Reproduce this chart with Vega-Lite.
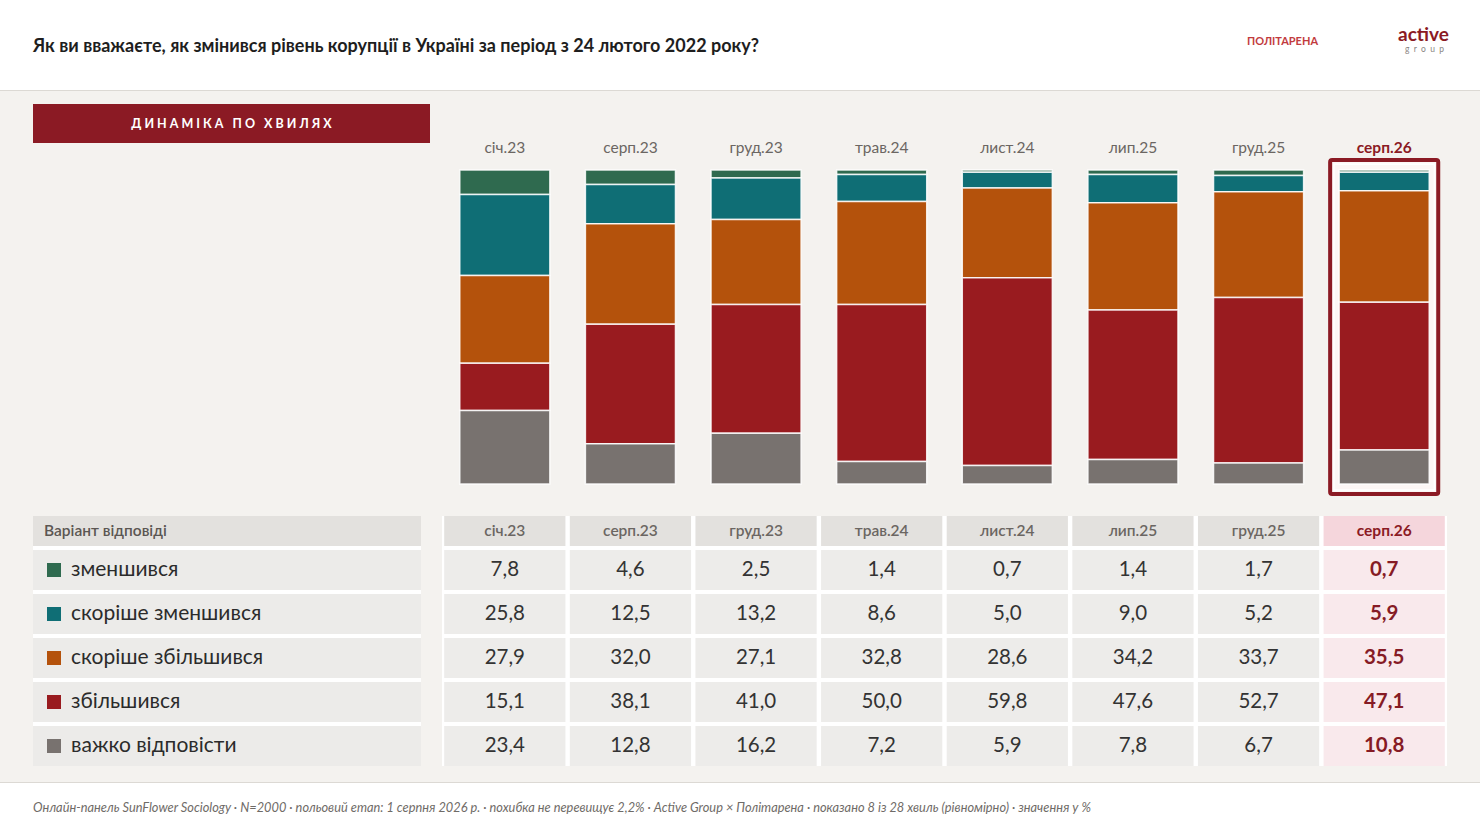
{
  "$schema": "https://vega.github.io/schema/vega-lite/v6.json",
  "padding": 0,
  "background": "#f4f2ef",
  "spacing": 0,
  "config": {
    "font": "Lato",
    "view": {"stroke": null},
    "concat": {"spacing": 0},
    "locale": {"number": {"decimal": ",", "thousands": " ", "grouping": [3], "currency": ["", ""]}}
  },
  "datasets": {
    "d": [
      {"w": "січ.23", "c": "зменшився", "v": 7.8},
      {"w": "січ.23", "c": "скоріше зменшився", "v": 25.8},
      {"w": "січ.23", "c": "скоріше збільшився", "v": 27.9},
      {"w": "січ.23", "c": "збільшився", "v": 15.1},
      {"w": "січ.23", "c": "важко відповісти", "v": 23.4},
      {"w": "серп.23", "c": "зменшився", "v": 4.6},
      {"w": "серп.23", "c": "скоріше зменшився", "v": 12.5},
      {"w": "серп.23", "c": "скоріше збільшився", "v": 32.0},
      {"w": "серп.23", "c": "збільшився", "v": 38.1},
      {"w": "серп.23", "c": "важко відповісти", "v": 12.8},
      {"w": "груд.23", "c": "зменшився", "v": 2.5},
      {"w": "груд.23", "c": "скоріше зменшився", "v": 13.2},
      {"w": "груд.23", "c": "скоріше збільшився", "v": 27.1},
      {"w": "груд.23", "c": "збільшився", "v": 41.0},
      {"w": "груд.23", "c": "важко відповісти", "v": 16.2},
      {"w": "трав.24", "c": "зменшився", "v": 1.4},
      {"w": "трав.24", "c": "скоріше зменшився", "v": 8.6},
      {"w": "трав.24", "c": "скоріше збільшився", "v": 32.8},
      {"w": "трав.24", "c": "збільшився", "v": 50.0},
      {"w": "трав.24", "c": "важко відповісти", "v": 7.2},
      {"w": "лист.24", "c": "зменшився", "v": 0.7},
      {"w": "лист.24", "c": "скоріше зменшився", "v": 5.0},
      {"w": "лист.24", "c": "скоріше збільшився", "v": 28.6},
      {"w": "лист.24", "c": "збільшився", "v": 59.8},
      {"w": "лист.24", "c": "важко відповісти", "v": 5.9},
      {"w": "лип.25", "c": "зменшився", "v": 1.4},
      {"w": "лип.25", "c": "скоріше зменшився", "v": 9.0},
      {"w": "лип.25", "c": "скоріше збільшився", "v": 34.2},
      {"w": "лип.25", "c": "збільшився", "v": 47.6},
      {"w": "лип.25", "c": "важко відповісти", "v": 7.8},
      {"w": "груд.25", "c": "зменшився", "v": 1.7},
      {"w": "груд.25", "c": "скоріше зменшився", "v": 5.2},
      {"w": "груд.25", "c": "скоріше збільшився", "v": 33.7},
      {"w": "груд.25", "c": "збільшився", "v": 52.7},
      {"w": "груд.25", "c": "важко відповісти", "v": 6.7},
      {"w": "серп.26", "c": "зменшився", "v": 0.7},
      {"w": "серп.26", "c": "скоріше зменшився", "v": 5.9},
      {"w": "серп.26", "c": "скоріше збільшився", "v": 35.5},
      {"w": "серп.26", "c": "збільшився", "v": 47.1},
      {"w": "серп.26", "c": "важко відповісти", "v": 10.8}
    ]
  },
  "vconcat": [
    {
      "spacing": 0,
      "hconcat": [
        {"width": 33, "height": 90, "data": {"values": [{}]}, "mark": {"type": "rect", "color": "#ffffff"}},
        {
          "width": 1187, "height": 90, "view": {"fill": "#ffffff"},
          "data": {"values": [{"t": "Як ви вважаєте, як змінився рівень корупції в Україні за період з 24 лютого 2022 року?"}]},
          "mark": {"type": "text", "align": "left", "baseline": "middle", "fontSize": 18, "fontWeight": "bold", "color": "#1e1e1e", "dy": 2},
          "encoding": {
            "text": {"field": "t"},
            "x": {"datum": 0, "type": "quantitative", "scale": {"domain": [0, 1]}, "axis": null}
          }
        },
        {
          "width": 125, "height": 90, "view": {"fill": "#ffffff"},
          "data": {"values": [{"t": "ПОЛІТАРЕНА"}]},
          "mark": {"type": "text", "fontSize": 11, "fontWeight": "bold", "color": "#c23b3e", "dy": -3},
          "encoding": {"text": {"field": "t"}}
        },
        {
          "width": 135, "height": 90, "view": {"fill": "#ffffff"},
          "data": {"values": [{"a": "active", "g": "g\u00a0\u00a0r\u00a0\u00a0o\u00a0\u00a0u\u00a0\u00a0p"}]},
          "layer": [
            {"mark": {"type": "text", "fontSize": 19, "fontWeight": "bold", "color": "#8b1a24", "dx": 11, "dy": -10}, "encoding": {"text": {"field": "a"}}},
            {"mark": {"type": "text", "fontSize": 8.5, "color": "#8a8582", "dx": 12, "dy": 4}, "encoding": {"text": {"field": "g"}}}
          ]
        }
      ]
    },
    {"width": 1480, "height": 1, "data": {"values": [{}]}, "mark": {"type": "rect", "color": "#dcd9d4"}},
    {
      "spacing": 0,
      "hconcat": [
        {"width": 33, "height": 425, "data": {"values": [{}]}, "mark": {"type": "rect", "opacity": 0}},
        {
          "spacing": 0,
          "vconcat": [
            {"width": 397, "height": 13, "data": {"values": [{}]}, "mark": {"type": "rect", "opacity": 0}},
            {
              "width": 397, "height": 39, "view": {"fill": "#8b1a24"},
              "data": {"values": [{"t": "Д И Н А М І К А\u00a0\u00a0\u00a0П О\u00a0\u00a0\u00a0Х В И Л Я Х"}]},
              "mark": {"type": "text", "fontSize": 12.5, "fontWeight": "bold", "color": "#ffffff"},
              "encoding": {"text": {"field": "t"}}
            },
            {"width": 397, "height": 373, "data": {"values": [{}]}, "mark": {"type": "rect", "opacity": 0}}
          ]
        },
        {"width": 12, "height": 425, "data": {"values": [{}]}, "mark": {"type": "rect", "opacity": 0}},
        {
          "width": 1005, "height": 425,
          "data": {"name": "d"},
          "transform": [
            {"calculate": "indexof(['важко відповісти', 'збільшився', 'скоріше збільшився', 'скоріше зменшився', 'зменшився'], datum.c)", "as": "k"}
          ],
          "encoding": {
            "x": {
              "field": "w", "type": "nominal", "axis": null,
              "scale": {"domain": ["січ.23", "серп.23", "груд.23", "трав.24", "лист.24", "лип.25", "груд.25", "серп.26"], "paddingInner": 0.283, "paddingOuter": 0.1415}
            }
          },
          "layer": [
            {
              "transform": [{"filter": "datum.w === 'серп.26' && datum.c === 'зменшився'"}],
              "mark": {"type": "bar", "width": {"band": 1.2}, "fill": "#fcf6f5", "stroke": "#8b1a24", "strokeWidth": 4, "cornerRadius": 2},
              "encoding": {
                "y": {"datum": 103.2, "type": "quantitative", "scale": {"domain": [-10.2, 125.2], "nice": false, "zero": false}, "axis": null},
                "y2": {"datum": -3.2}
              }
            },
            {
              "transform": [{"filter": "datum.w === 'серп.26' && datum.c === 'зменшився'"}],
              "mark": {"type": "bar", "width": {"band": 1.115}, "fill": null, "stroke": "#ffffff", "strokeWidth": 1.5},
              "encoding": {
                "y": {"datum": 101.9, "type": "quantitative", "scale": {"domain": [-10.2, 125.2], "nice": false, "zero": false}, "axis": null},
                "y2": {"datum": -1.9}
              }
            },
            {
              "mark": {"type": "bar", "stroke": "#ffffff", "strokeWidth": 1.5, "strokeOpacity": 0.85},
              "encoding": {
                "y": {"field": "v", "type": "quantitative", "stack": "zero", "scale": {"domain": [-10.2, 125.2], "nice": false, "zero": false}, "axis": null},
                "color": {
                  "field": "c", "type": "nominal", "legend": null,
                  "scale": {
                    "domain": ["зменшився", "скоріше зменшився", "скоріше збільшився", "збільшився", "важко відповісти"],
                    "range": ["#2f6a4f", "#0f6e75", "#b4520c", "#991b1f", "#78726f"]
                  }
                },
                "order": {"field": "k", "type": "quantitative"}
              }
            },
            {
              "transform": [{"filter": "datum.c === 'зменшився' && datum.w !== 'серп.26'"}],
              "mark": {"type": "text", "fontSize": 15.5, "color": "#6b6662", "baseline": "middle"},
              "encoding": {
                "y": {"datum": 107, "type": "quantitative", "scale": {"domain": [-10.2, 125.2], "nice": false, "zero": false}, "axis": null},
                "text": {"field": "w"}
              }
            },
            {
              "transform": [{"filter": "datum.c === 'зменшився' && datum.w === 'серп.26'"}],
              "mark": {"type": "text", "fontSize": 15.5, "fontWeight": "bold", "color": "#8b1a24", "baseline": "middle"},
              "encoding": {
                "y": {"datum": 107, "type": "quantitative", "scale": {"domain": [-10.2, 125.2], "nice": false, "zero": false}, "axis": null},
                "text": {"field": "w"}
              }
            }
          ]
        },
        {"width": 33, "height": 425, "data": {"values": [{}]}, "mark": {"type": "rect", "opacity": 0}}
      ]
    },
    {
      "spacing": 0,
      "hconcat": [
        {"width": 33, "height": 250, "data": {"values": [{}]}, "mark": {"type": "rect", "opacity": 0}},
        {
          "spacing": 0,
          "vconcat": [
            {
              "width": 388, "height": 30, "view": {"fill": "#e3e1de"},
              "data": {"values": [{"t": "Варіант відповіді"}]},
              "mark": {"type": "text", "align": "left", "baseline": "middle", "fontSize": 15.5, "fontWeight": 600, "color": "#5b5652"},
              "encoding": {
                "text": {"field": "t"},
                "x": {"datum": 0.0284, "type": "quantitative", "scale": {"domain": [0, 1]}, "axis": null}
              }
            },
            {"width": 388, "height": 4, "data": {"values": [{}]}, "mark": {"type": "rect", "color": "#ffffff"}},
            {
              "width": 388, "height": 216, "view": {"fill": "#ffffff"},
              "data": {"name": "d"},
              "transform": [{"filter": "datum.w === 'січ.23'"}],
              "encoding": {
                "y": {
                  "field": "c", "type": "nominal", "axis": null,
                  "scale": {"domain": ["зменшився", "скоріше зменшився", "скоріше збільшився", "збільшився", "важко відповісти"], "paddingInner": 0.0909, "paddingOuter": 0}
                }
              },
              "layer": [
                {"mark": {"type": "rect", "color": "#ecebe9"}},
                {
                  "mark": {"type": "square", "size": 196, "filled": true, "opacity": 1},
                  "encoding": {
                    "x": {"datum": 0.0541, "type": "quantitative", "scale": {"domain": [0, 1]}, "axis": null},
                    "color": {
                      "field": "c", "type": "nominal", "legend": null,
                      "scale": {
                        "domain": ["зменшився", "скоріше зменшився", "скоріше збільшився", "збільшився", "важко відповісти"],
                        "range": ["#2f6a4f", "#0f6e75", "#b4520c", "#991b1f", "#78726f"]
                      }
                    }
                  }
                },
                {
                  "mark": {"type": "text", "align": "left", "baseline": "middle", "fontSize": 21, "color": "#2b2b2b"},
                  "encoding": {
                    "x": {"datum": 0.098, "type": "quantitative", "scale": {"domain": [0, 1]}, "axis": null},
                    "text": {"field": "c"}
                  }
                }
              ]
            }
          ]
        },
        {"width": 21, "height": 250, "data": {"values": [{}]}, "mark": {"type": "rect", "opacity": 0}},
        {
          "spacing": 0,
          "vconcat": [
            {
              "width": 1005, "height": 30, "view": {"fill": "#ffffff"},
              "data": {"name": "d"},
              "transform": [{"filter": "datum.c === 'зменшився'"}],
              "encoding": {
                "x": {
                  "field": "w", "type": "nominal", "axis": null,
                  "scale": {"domain": ["січ.23", "серп.23", "груд.23", "трав.24", "лист.24", "лип.25", "груд.25", "серп.26"], "paddingInner": 0.035, "paddingOuter": 0.0175}
                }
              },
              "layer": [
                {
                  "mark": {"type": "rect"},
                  "encoding": {"color": {"condition": {"test": "datum.w === 'серп.26'", "value": "#f5d6dc"}, "value": "#e3e1de"}}
                },
                {
                  "transform": [{"filter": "datum.w !== 'серп.26'"}],
                  "mark": {"type": "text", "fontSize": 15.5, "fontWeight": 600, "color": "#6b6662", "baseline": "middle"},
                  "encoding": {"text": {"field": "w"}}
                },
                {
                  "transform": [{"filter": "datum.w === 'серп.26'"}],
                  "mark": {"type": "text", "fontSize": 15.5, "fontWeight": "bold", "color": "#8b1a24", "baseline": "middle"},
                  "encoding": {"text": {"field": "w"}}
                }
              ]
            },
            {"width": 1005, "height": 4, "data": {"values": [{}]}, "mark": {"type": "rect", "color": "#ffffff"}},
            {
              "width": 1005, "height": 216, "view": {"fill": "#ffffff"},
              "data": {"name": "d"},
              "encoding": {
                "x": {
                  "field": "w", "type": "nominal", "axis": null,
                  "scale": {"domain": ["січ.23", "серп.23", "груд.23", "трав.24", "лист.24", "лип.25", "груд.25", "серп.26"], "paddingInner": 0.035, "paddingOuter": 0.0175}
                },
                "y": {
                  "field": "c", "type": "nominal", "axis": null,
                  "scale": {"domain": ["зменшився", "скоріше зменшився", "скоріше збільшився", "збільшився", "важко відповісти"], "paddingInner": 0.0909, "paddingOuter": 0}
                }
              },
              "layer": [
                {
                  "mark": {"type": "rect"},
                  "encoding": {"color": {"condition": {"test": "datum.w === 'серп.26'", "value": "#f9e9ec"}, "value": "#edecea"}}
                },
                {
                  "transform": [{"filter": "datum.w !== 'серп.26'"}],
                  "mark": {"type": "text", "fontSize": 20.5, "color": "#333333", "baseline": "middle"},
                  "encoding": {"text": {"field": "v", "type": "quantitative", "format": ".1f"}}
                },
                {
                  "transform": [{"filter": "datum.w === 'серп.26'"}],
                  "mark": {"type": "text", "fontSize": 20.5, "fontWeight": "bold", "color": "#861b25", "baseline": "middle"},
                  "encoding": {"text": {"field": "v", "type": "quantitative", "format": ".1f"}}
                }
              ]
            }
          ]
        },
        {"width": 33, "height": 250, "data": {"values": [{}]}, "mark": {"type": "rect", "opacity": 0}}
      ]
    },
    {"width": 1480, "height": 15, "data": {"values": [{}]}, "mark": {"type": "rect", "opacity": 0}},
    {"width": 1480, "height": 1, "data": {"values": [{}]}, "mark": {"type": "rect", "color": "#dcd9d4"}},
    {
      "spacing": 0,
      "hconcat": [
        {"width": 33, "height": 51, "data": {"values": [{}]}, "mark": {"type": "rect", "color": "#ffffff"}},
        {
          "width": 1447, "height": 51, "view": {"fill": "#ffffff"},
          "data": {"values": [{"t": "Онлайн-панель SunFlower Sociology · N=2000 · польовий етап: 1 серпня 2026 р. · похибка не перевищує 2,2% · Active Group × Політарена · показано 8 із 28 хвиль (рівномірно) · значення у %"}]},
          "mark": {"type": "text", "align": "left", "baseline": "middle", "fontSize": 12.8, "fontStyle": "italic", "color": "#6f6b67", "dy": -1},
          "encoding": {
            "text": {"field": "t"},
            "x": {"datum": 0, "type": "quantitative", "scale": {"domain": [0, 1]}, "axis": null}
          }
        }
      ]
    }
  ]
}
